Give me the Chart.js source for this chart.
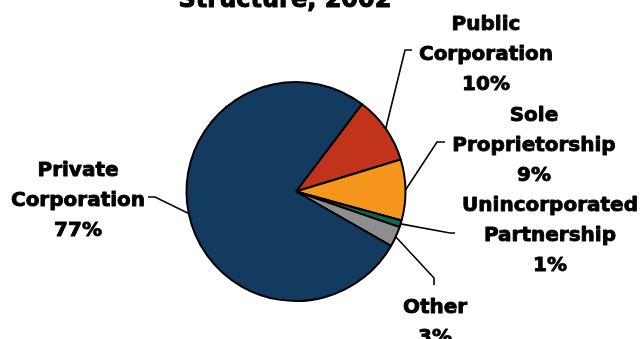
<!DOCTYPE html>
<html>
<head>
<meta charset="utf-8">
<script src="https://cdn.jsdelivr.net/npm/chart.js@4/dist/chart.umd.min.js"></script>
<style>
  html, body { margin: 0; padding: 0; background: #fff; overflow: hidden; }
  #wrap { position: relative; width: 644px; height: 339px; }
</style>
</head>
<body>
<div id="wrap"><canvas id="chart"></canvas></div>
<script>
// Businesses by ownership structure, 2002 (percent of total)
const categories = [
  ['Public', 'Corporation'],
  ['Sole', 'Proprietorship'],
  ['Unincorporated', 'Partnership'],
  ['Other'],
  ['Private', 'Corporation']
];
const shares = [10, 9, 1, 3, 77];
const sliceColors = ['#C1331B', '#F7961D', '#0D6B4C', '#8E8E8E', '#123B5F'];
const titleText = 'Structure, 2002';

const FONT = 'bold 20px "DejaVu Sans", Verdana, sans-serif';

// Callout placement: elbow/end of each leader line, label centre and first baseline
const callouts = [
  { elbow: [405, 50],  end: [412, 50],  cx: 486, y: 30 },
  { elbow: [437, 142], end: [445, 142], cx: 534, y: 121 },
  { elbow: [450, 233], end: [455, 233], cx: 550, y: 211 },
  { elbow: [434, 278], end: [434, 285], cx: 435, y: 313 },
  { elbow: [155, 197], end: [148, 197], cx: 78,  y: 176 }
];
const LINE_GAP = 30;

// heavy text: fill plus a thin outline of the same colour
function heavyText(ctx, t, x, y, weight) {
  ctx.lineWidth = weight;
  ctx.lineJoin = 'round';
  ctx.strokeText(t, x, y);
  ctx.fillText(t, x, y);
}

const calloutPlugin = {
  id: 'callouts',
  afterDraw(chart) {
    const ctx = chart.ctx;
    const meta = chart.getDatasetMeta(0);
    ctx.save();
    ctx.fillStyle = '#000';
    ctx.strokeStyle = '#000';
    // title (only the second line sits inside the frame)
    ctx.font = 'bold 24px "DejaVu Sans", Verdana, sans-serif';
    ctx.textAlign = 'center';
    ctx.textBaseline = 'alphabetic';
    heavyText(ctx, titleText, 285, 7, 1);

    meta.data.forEach((arc, i) => {
      const p = arc.getProps(['x', 'y', 'startAngle', 'endAngle', 'outerRadius'], true);
      const mid = (p.startAngle + p.endAngle) / 2;
      const ax = p.x + Math.cos(mid) * p.outerRadius;
      const ay = p.y + Math.sin(mid) * p.outerRadius;
      const c = callouts[i];
      ctx.lineWidth = 1.6;
      ctx.lineJoin = 'miter';
      ctx.beginPath();
      ctx.moveTo(ax, ay);
      ctx.lineTo(c.elbow[0], c.elbow[1]);
      ctx.lineTo(c.end[0], c.end[1]);
      ctx.stroke();

      const lines = categories[i].concat([shares[i] + '%']);
      ctx.font = FONT;
      ctx.textAlign = 'center';
      lines.forEach((t, k) => heavyText(ctx, t, c.cx, c.y + k * LINE_GAP, 0.9));
    });
    ctx.restore();
  }
};

new Chart(document.getElementById('chart'), {
  type: 'pie',
  data: {
    labels: categories,
    datasets: [{
      data: shares,
      backgroundColor: sliceColors,
      borderColor: '#000',
      borderWidth: 2
    }]
  },
  options: {
    responsive: true,
    maintainAspectRatio: false,
    animation: false,
    rotation: 37,
    radius: 109.5,
    layout: { padding: { left: 0, right: 52, top: 44, bottom: 0 } },
    plugins: {
      legend: { display: false },
      tooltip: { enabled: false },
      title: { display: false }
    }
  },
  plugins: [calloutPlugin]
});
</script>
</body>
</html>
